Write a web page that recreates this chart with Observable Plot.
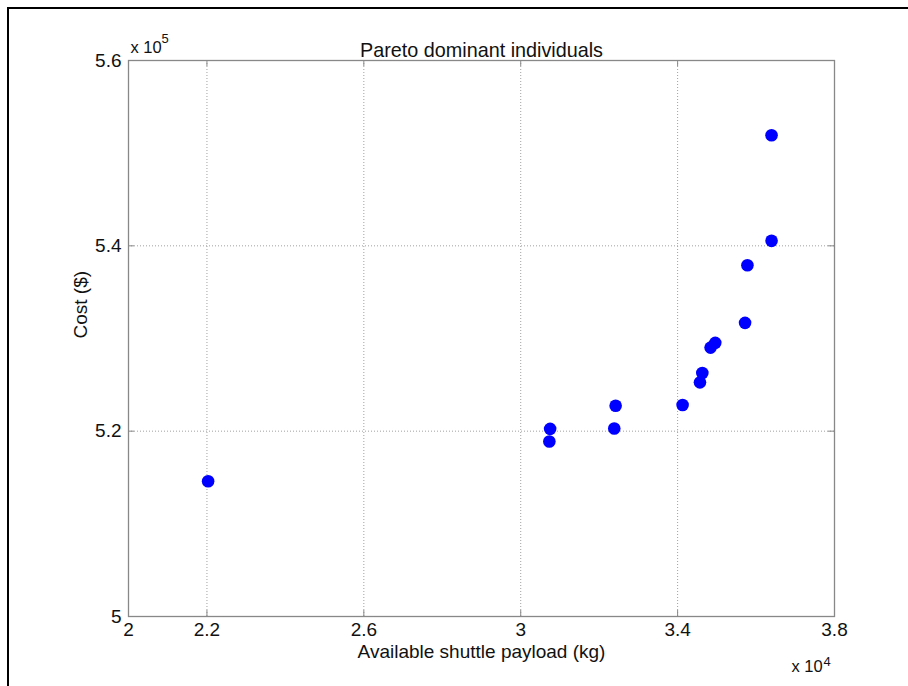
<!DOCTYPE html>
<html>
<head>
<meta charset="utf-8">
<script src="https://cdn.jsdelivr.net/npm/d3@7"></script>
<script src="https://cdn.jsdelivr.net/npm/@observablehq/plot@0.6"></script>
<style>
  html, body { margin: 0; padding: 0; background: #fff; }
  #wrap { position: relative; width: 908px; height: 686px; overflow: hidden; }
  #border { position: absolute; left: 7px; top: 7px; right: -10px; bottom: -10px;
            border-top: 2px solid #000; border-left: 2px solid #000; pointer-events: none; }
  #chart { position: absolute; left: 0; top: 0; }
</style>
</head>
<body>
<div id="wrap"><div id="chart"></div><div id="border"></div></div>
<script>
// Data (payload in kg, cost in $)
const payload = [22030, 30730, 30750, 32385, 32420, 34127, 34570, 34630, 34840, 34960, 35720, 35780, 36395, 36395];
const cost    = [514590, 518880, 520250, 520290, 522740, 522820, 525270, 526280, 529020, 529530, 531690, 537900, 540540, 551940];
const xTicks = [20000, 22000, 26000, 30000, 34000, 38000];
const yTicks = [500000, 520000, 540000, 560000];
const titleText = "Pareto dominant individuals";
const xLabel = "Available shuttle payload (kg)";
const yLabel = "Cost ($)";

const data = payload.map((p, i) => ({payload: p, cost: cost[i]}));

const W = 908, H = 686, mL = 128, mR = 74, mT = 60, mB = 70;
const innerW = W - mL - mR, innerH = H - mT - mB;
const tickLen = 6;
const axisColor = "#888";
const font = "'Liberation Sans', Arial, sans-serif";
const fmtX = d => String(d / 1e4);
const fmtY = d => String(d / 1e5);

const chart = Plot.plot({
  width: W, height: H,
  marginLeft: mL, marginRight: mR, marginTop: mT, marginBottom: mB,
  style: {fontFamily: font, fontSize: "19px", color: "#111", background: "white", overflow: "visible"},
  x: {domain: [20000, 38000]},
  y: {domain: [500000, 560000]},
  marks: [
    Plot.gridX(xTicks, {stroke: "#a0a0a0", strokeOpacity: 1, strokeDasharray: "1,2"}),
    Plot.gridY(yTicks, {stroke: "#a0a0a0", strokeOpacity: 1, strokeDasharray: "1,2"}),
    Plot.frame({stroke: axisColor, strokeWidth: 1.3}),
    // inward tick marks on all four sides
    Plot.tickX(xTicks, {x: d => d, stroke: axisColor, insetTop: innerH - tickLen}),
    Plot.tickX(xTicks, {x: d => d, stroke: axisColor, insetBottom: innerH - tickLen}),
    Plot.tickY(yTicks, {y: d => d, stroke: axisColor, insetRight: innerW - tickLen}),
    Plot.tickY(yTicks, {y: d => d, stroke: axisColor, insetLeft: innerW - tickLen}),
    Plot.axisX(xTicks, {tickSize: 0, tickPadding: 6, label: null, fontSize: 19, tickFormat: fmtX}),
    Plot.axisY(yTicks, {tickSize: 0, tickPadding: 7, label: null, fontSize: 19, tickFormat: fmtY}),
    Plot.dot(data, {x: "payload", y: "cost", r: 6.3, fill: "#0000ff", stroke: "none"}),
    // title and axis labels
    Plot.text([titleText], {text: d => d, frameAnchor: "top", dy: -18, fontSize: 19.8}),
    Plot.text([xLabel], {text: d => d, frameAnchor: "bottom", dy: 41, fontSize: 19}),
    Plot.text([yLabel], {text: d => d, frameAnchor: "left", dx: -48, rotate: -90, fontSize: 19}),
    // exponent labels
    Plot.text(["x 10"], {text: d => d, frameAnchor: "top-left", dx: 2, dy: -8, textAnchor: "start", lineAnchor: "bottom", fontSize: 16.5}),
    Plot.text(["5"], {text: d => d, frameAnchor: "top-left", dx: 33, dy: -18, textAnchor: "start", lineAnchor: "bottom", fontSize: 13}),
    Plot.text(["x 10"], {text: d => d, frameAnchor: "bottom-right", dx: -43, dy: 55, textAnchor: "start", lineAnchor: "bottom", fontSize: 16.5}),
    Plot.text(["4"], {text: d => d, frameAnchor: "bottom-right", dx: -11, dy: 49, textAnchor: "start", lineAnchor: "bottom", fontSize: 13})
  ]
});
document.getElementById("chart").appendChild(chart);
</script>
</body>
</html>
